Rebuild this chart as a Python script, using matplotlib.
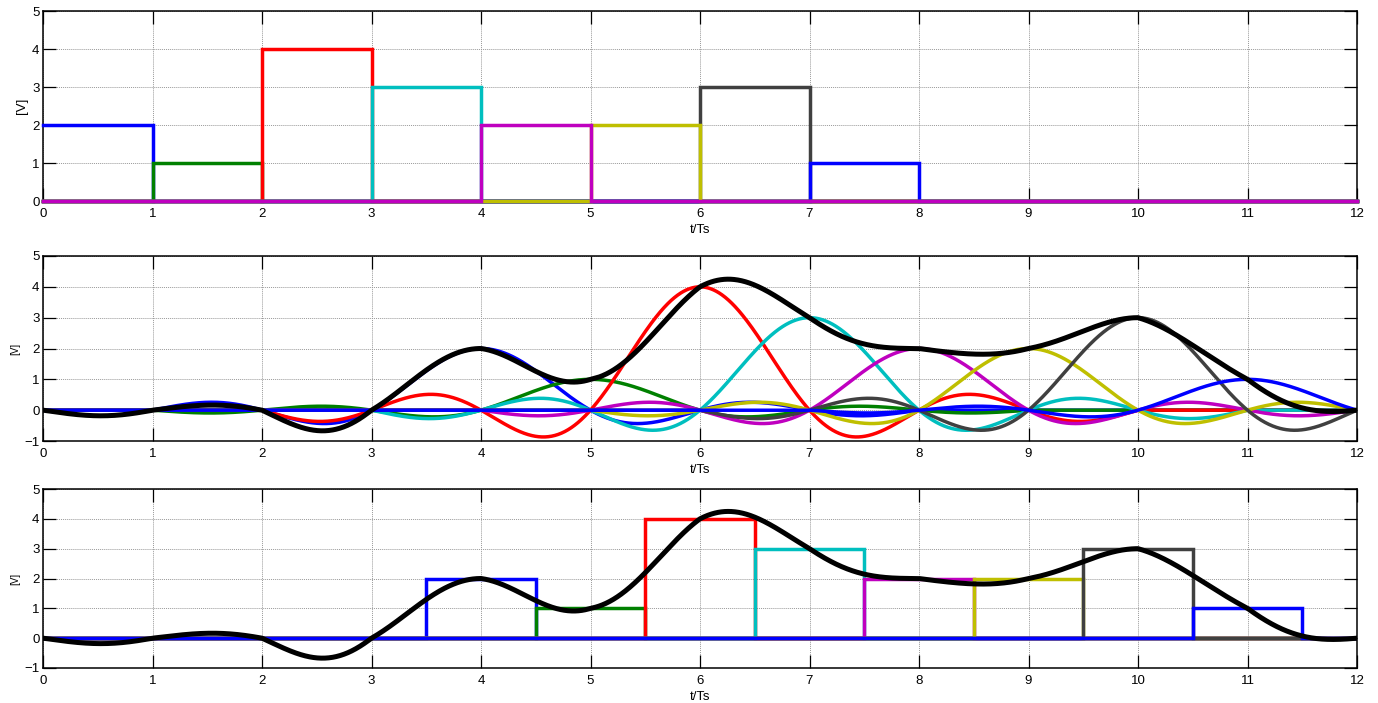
import numpy as np
import matplotlib
matplotlib.use('Agg')
import matplotlib.pyplot as plt

# ---- data ----
amplitudes = [2, 1, 4, 3, 2, 2, 3, 1]          # sample values [V]
colors = ['#0000ff', '#008000', '#ff0000', '#00bfbf',
          '#bf00bf', '#bfbf00', '#404040', '#0000ff']
top_draw_order = [0, 1, 2, 3, 6, 7, 5, 4]        # stacking seen in the top panel
delay = 4                                        # pulse centre offset (in Ts)
half_window = 4                                  # sinc pulses truncated to +-4 Ts
t_max = 12
xticks = list(range(0, 13))
yticks_top = [0, 1, 2, 3, 4, 5]
yticks_low = [-1, 0, 1, 2, 3, 4, 5]

plt.rcParams['font.family'] = ['Liberation Sans', 'DejaVu Sans']

W, H = 1378, 703
fig = plt.figure(figsize=(W / 100, H / 100), dpi=100)

def px_axes(left, top, right, bottom):
    return fig.add_axes([left / W, 1 - bottom / H, (right - left) / W, (bottom - top) / H])

ax1 = px_axes(43, 11, 1357, 201)
ax2 = px_axes(43, 256, 1357, 441)
ax3 = px_axes(43, 489, 1357, 668)

t = np.linspace(0, t_max, 2401)
LW = 2.5
LWB = 3.6

def style(ax, yticks, ylabel_size):
    ax.set_xlim(0, t_max)
    ax.set_ylim(yticks[0], yticks[-1])
    ax.set_xticks(xticks)
    ax.set_yticks(yticks)
    ax.grid(True, color='#999999', linestyle=(0, (1, 1)), linewidth=0.7)
    ax.set_axisbelow(True)
    ax.tick_params(direction='in', length=9.4, width=0.9, top=True, right=True,
                   labelsize=9.5, colors='black')
    ax.tick_params(axis='x', pad=5)
    ax.tick_params(axis='y', pad=2.5)
    for s in ax.spines.values():
        s.set_linewidth(1.1)
        s.set_color('black')
    ax.set_xlabel('t/Ts', fontsize=9.5, labelpad=3)
    ax.set_ylabel('[V]', fontsize=ylabel_size, labelpad=3)

# ---- top: sample-and-hold pulses ----
for k in top_draw_order:
    a = amplitudes[k]
    tt = [0, k, k, k + 1, k + 1, t_max]
    yy = [0, 0, a, a, 0, 0]
    if k == 0:
        tt, yy = tt[2:], yy[2:]
    ax1.plot(tt, yy, color=colors[k], linewidth=LW, solid_joinstyle='miter',
             clip_on=False, zorder=3)
style(ax1, yticks_top, 9.5)

# ---- middle: truncated sinc pulses and their sum ----
total = np.zeros_like(t)
for k, a in enumerate(amplitudes):
    c = delay + k
    y = np.where(np.abs(t - c) <= half_window, a * np.sinc(t - c), 0.0)
    total += y
    ax2.plot(t, y, color=colors[k], linewidth=LW)
ax2.plot(t, total, color='black', linewidth=LWB)
style(ax2, yticks_low, 7)

# ---- bottom: centred rectangles and the reconstructed signal ----
for k, a in enumerate(amplitudes):
    c = delay + k
    tt = [0, c - 0.5, c - 0.5, c + 0.5, c + 0.5, t_max]
    yy = [0, 0, a, a, 0, 0]
    ax3.plot(tt, yy, color=colors[k], linewidth=LW, solid_joinstyle='miter')
ax3.plot(t, total, color='black', linewidth=LWB)
style(ax3, yticks_low, 7)

fig.savefig('out.png', dpi=100)
